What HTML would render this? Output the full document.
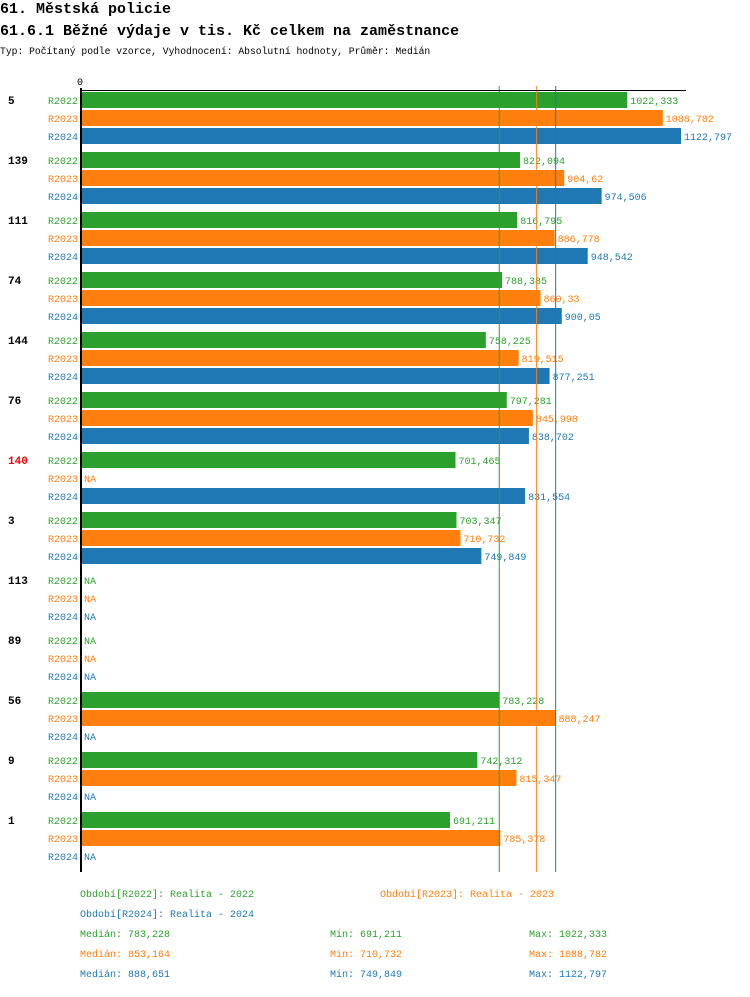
<!DOCTYPE html>
<html><head><meta charset="utf-8"><style>
body{margin:0;background:#fff;width:750px;height:992px;overflow:hidden;font-family:"Liberation Mono",monospace}
svg text{font-family:"Liberation Mono",monospace}
</style></head><body>
<svg id="c" width="750" height="992" xmlns="http://www.w3.org/2000/svg">
<text x="0" y="13" font-size="15" font-weight="bold">61. Městská policie</text>
<text x="0" y="35" font-size="15" font-weight="bold">61.6.1 Běžné výdaje v tis. Kč celkem na zaměstnance</text>
<text x="0" y="54" font-size="9.7">Typ: Počítaný podle vzorce, Vyhodnocení: Absolutní hodnoty, Průměr: Medián</text>
<text x="80" y="85" font-size="10" text-anchor="middle">0</text>
</svg>
<script>
const groups=["5","139","111","74","144","76","140","3","113","89","56","9","1"];
const highlighted=["140"];
const series=["R2022","R2023","R2024"];
const v2022=[1022.333,822.094,816.795,788.385,758.225,797.281,701.465,703.347,null,null,783.228,742.312,691.211];
const v2023=[1088.782,904.62,886.778,860.33,819.515,845.998,null,710.732,null,null,888.247,815.347,785.378];
const v2024=[1122.797,974.506,948.542,900.05,877.251,838.702,831.554,749.849,null,null,null,null,null];
const medians=[783.228,853.164,888.651];
const mins=[691.211,710.732,749.849];
const maxs=[1022.333,1088.782,1122.797];
const periodNames=["Realita - 2022","Realita - 2023","Realita - 2024"];
const colors=["#2ca02c","#ff7f0e","#1f77b4"];
const vals=[v2022,v2023,v2024];
const svg=document.getElementById('c');
const NS="http://www.w3.org/2000/svg";
const x0=80,x1=681,vmax=1122.797;
const X=v=>x0+v*(x1-x0)/vmax;
const Y=(g,s)=>92+g*60+s*18;
const fmt=v=>String(v).replace('.',',');
function mk(tag,a){const e=document.createElementNS(NS,tag);for(const k in a)e.setAttribute(k,a[k]);svg.appendChild(e);return e;}
groups.forEach((g,gi)=>{
 const t=mk('text',{x:8,y:Y(gi,0)+12,'font-size':11,'font-weight':'bold',fill:highlighted.includes(g)?'#ff0000':'#000'});
 t.textContent=g;
 
 
 series.forEach((s,si)=>{
  const y=Y(gi,si);
  const l=mk('text',{x:78,y:y+12,'font-size':10,'text-anchor':'end',fill:colors[si]});
  l.textContent=s;
  
  
  const v=vals[si][gi];
  if(v!=null){
   const r=mk('rect',{x:x0,y:y,width:X(v)-x0,height:16,fill:colors[si]});
   
   
   const vt=mk('text',{x:X(v)+3,y:y+12,'font-size':10,fill:colors[si]});
   vt.textContent=fmt(v);
   
   
  }else{
   const vt=mk('text',{x:x0+4,y:y+12,'font-size':10,fill:colors[si]});
   vt.textContent='NA';
   
   
  }
 });
});
medians.forEach((m,i)=>{
 const l=mk('line',{x1:X(m),x2:X(m),y1:86,y2:872,stroke:colors[i],'stroke-width':1});
 
 
});
const ax=mk('line',{x1:81,x2:81,y1:88,y2:872,stroke:'#000','stroke-width':2});


const tp=mk('line',{x1:80,x2:686,y1:90.5,y2:90.5,stroke:'#000','stroke-width':1});


const legPos=[[80,897],[380,897],[80,917]];
series.forEach((s,i)=>{
 const t=mk('text',{x:legPos[i][0],y:legPos[i][1],'font-size':10,fill:colors[i]});
 t.textContent='Období['+s+']: '+periodNames[i];
 
 
 const y=937+i*20;
 const a=mk('text',{x:80,y:y,'font-size':10,fill:colors[i]});
 a.textContent='Medián: '+fmt(medians[i]);
 
 
 const b=mk('text',{x:330,y:y,'font-size':10,fill:colors[i]});
 b.textContent='Min: '+fmt(mins[i]);
 
 
 const c=mk('text',{x:529,y:y,'font-size':10,fill:colors[i]});
 c.textContent='Max: '+fmt(maxs[i]);
 
 
});
</script>
</body></html>
